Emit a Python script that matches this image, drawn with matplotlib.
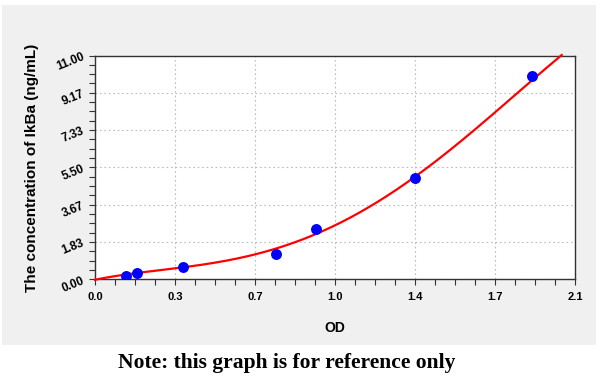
import matplotlib
matplotlib.use("Agg")
import matplotlib.pyplot as plt
import numpy as np
from matplotlib.patches import Rectangle
from matplotlib.ticker import AutoMinorLocator

# Standard points (OD, concentration)
od = [0.134, 0.185, 0.384, 0.792, 0.966, 1.400, 1.911]
conc = [0.15, 0.32, 0.59, 1.23, 2.49, 4.96, 9.99]

# Fitted standard curve
curve_od = [0.0, 0.134, 0.384, 0.503, 0.634, 0.792, 0.966, 1.159, 1.247, 1.400, 1.655, 1.750, 2.042]
curve_conc = [0.02, 0.18, 0.55, 0.79, 1.08, 1.55, 2.26, 3.27, 3.85, 4.96, 7.34, 8.25, 11.0]

x_ticks = [0.0, 0.35, 0.7, 1.05, 1.4, 1.75, 2.1]
x_labels = ["0.0", "0.3", "0.7", "1.0", "1.4", "1.7", "2.1"]
y_ticks = [0.0, 11/6, 22/6, 33/6, 44/6, 55/6, 11.0]
y_labels = ["0.00", "1.83", "3.67", "5.50", "7.33", "9.17", "11.00"]

fig = plt.figure(figsize=(6, 3.84), dpi=100)
fig.patch.set_facecolor("white")
fig.patches.append(Rectangle((2/600, 1-345/384), 594/600, 340/384,
                             transform=fig.transFigure, facecolor="#f0f0f0",
                             edgecolor="none", zorder=-5))
ax = fig.add_axes([95/600, 1-279.3/384, 480/600, 223.8/384])
ax.set_facecolor("white")

# smooth trend through the read curve values
coef = np.polyfit(curve_od, curve_conc, 4)
xs = np.linspace(min(curve_od), max(curve_od), 400)
ax.plot(xs, np.polyval(coef, xs), color="#ff0000", lw=1.6, zorder=3, clip_on=False)
ax.scatter(od, conc, s=62, color="#0000ff", zorder=4, linewidths=0)

ax.set_xlim(0, 2.1)
ax.set_ylim(0, 11)
ax.set_xticks(x_ticks)
ax.set_xticklabels(x_labels, fontfamily="Liberation Sans", fontweight="bold", fontsize=8)
ax.set_yticks(y_ticks)
ax.set_yticklabels(y_labels, fontfamily="Liberation Sans", fontweight="bold", fontsize=8.5,
                   rotation=22)
ax.xaxis.set_minor_locator(AutoMinorLocator(4))
ax.yaxis.set_minor_locator(AutoMinorLocator(4))
ax.tick_params(which="both", direction="out", length=4.5, width=0.8, color="#333333")
ax.tick_params(axis="x", pad=5)
ax.tick_params(axis="y", pad=2)
ax.grid(True, which="major", color="#bbbbbb", linestyle=(0, (1.5, 2.5)), lw=0.8)
for s in ax.spines.values():
    s.set_color("#333333")
    s.set_linewidth(1.0)

ax.set_xlabel("OD", fontfamily="Liberation Sans", fontweight="bold", fontsize=10, labelpad=13)
ax.set_ylabel("The concentration of IkBa (ng/mL)", fontfamily="Liberation Sans",
              fontweight="bold", fontsize=11, labelpad=11)

fig.text(287/600, 1-363/384, "Note: this graph is for reference only", ha="center", va="center",
         fontfamily="Liberation Serif", fontweight="bold", fontsize=15.5)

fig.savefig("out.png", dpi=100)
